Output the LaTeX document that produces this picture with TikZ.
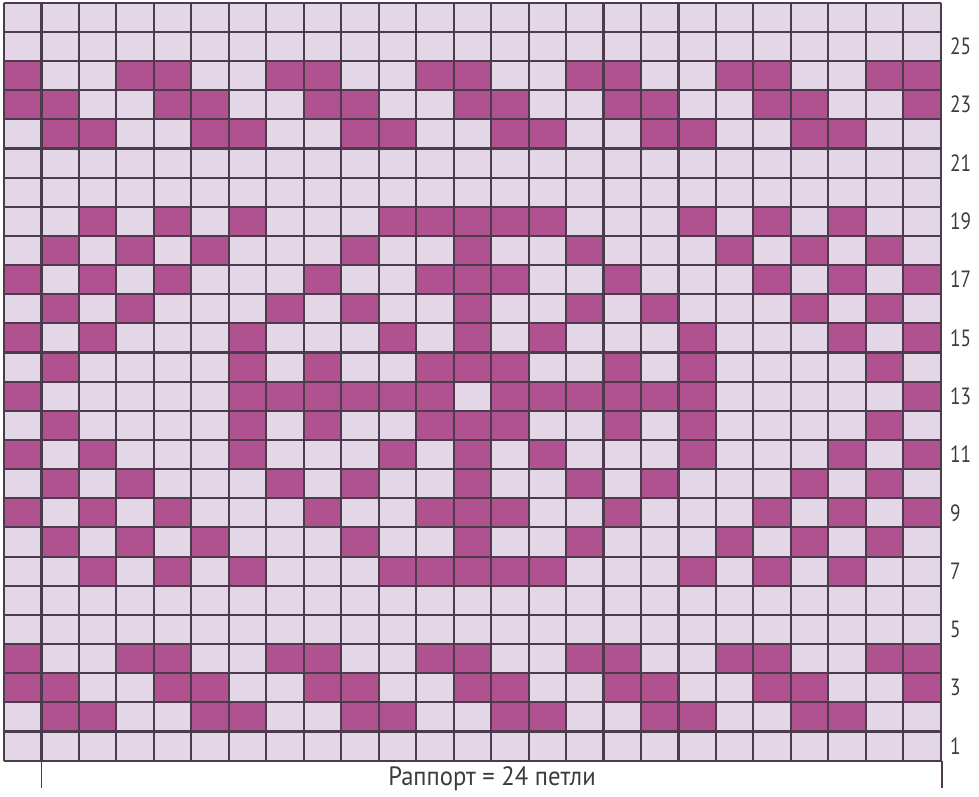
\documentclass[tikz,border=0pt]{standalone}
\usepackage{fontspec}
\setmainfont{PT Sans}
\definecolor{cellLight}{HTML}{E3D6E7}
\definecolor{cellDark}{HTML}{B0528F}
\definecolor{gridCol}{HTML}{4B3B4D}
\definecolor{txtCol}{HTML}{3C3C3C}
\tikzset{
  gridline/.style={draw=gridCol, line width=2.1pt},
  rowlbl/.style={anchor=west, inner sep=0pt, text=txtCol, font=\fontsize{23.5}{23.5}\selectfont},
  caplbl/.style={inner sep=0pt, text=txtCol, font=\fontsize{26.5}{26.5}\selectfont},
  tick/.style={draw=gridCol, line width=1.6pt}
}
\begin{document}
\begin{tikzpicture}[x=1pt,y=-1pt]
\useasboundingbox (0,0) rectangle (979,796);
\fill[white] (0,0) rectangle (979,796);
\def\cw{37.47}
\def\ch{29.15}
\def\xo{4}
\def\yo{2.7}
\fill[cellLight] (\xo,\yo) rectangle ({\xo+25*\cw},{\yo+26*\ch});
\foreach \r/\cols in {
  24/{1,4,5,8,9,12,13,16,17,20,21,24,25},
  23/{1,2,5,6,9,10,13,14,17,18,21,22,25},
  22/{2,3,6,7,10,11,14,15,18,19,22,23},
  19/{3,5,7,11,12,13,14,15,19,21,23},
  18/{2,4,6,10,13,16,20,22,24},
  17/{1,3,5,9,12,13,14,17,21,23,25},
  16/{2,4,8,10,13,16,18,22,24},
  15/{1,3,7,11,13,15,19,23,25},
  14/{2,7,9,12,13,14,17,19,24},
  13/{1,7,8,9,10,11,12,14,15,16,17,18,19,25},
  12/{2,7,9,12,13,14,17,19,24},
  11/{1,3,7,11,13,15,19,23,25},
  10/{2,4,8,10,13,16,18,22,24},
  9/{1,3,5,9,12,13,14,17,21,23,25},
  8/{2,4,6,10,13,16,20,22,24},
  7/{3,5,7,11,12,13,14,15,19,21,23},
  4/{1,4,5,8,9,12,13,16,17,20,21,24,25},
  3/{1,2,5,6,9,10,13,14,17,18,21,22,25},
  2/{2,3,6,7,10,11,14,15,18,19,22,23}} {
  \foreach \c in \cols {
    \fill[cellDark] ({\xo+(\c-1)*\cw},{\yo+(26-\r)*\ch}) rectangle ({\xo+\c*\cw},{\yo+(27-\r)*\ch});
  }
}
\foreach \i in {0,...,25} {
  \draw[gridline] ({\xo+\i*\cw},\yo) -- ({\xo+\i*\cw},{\yo+26*\ch});
}
\foreach \j in {0,...,26} {
  \draw[gridline] (\xo,{\yo+\j*\ch}) -- ({\xo+25*\cw},{\yo+\j*\ch});
}
\foreach \n in {1,3,...,25} {
  \node[rowlbl] (r\n) at (950,{\yo+(26-\n+0.5)*\ch}) {\scalebox{0.82}[1]{\n}};
}
\coordinate (tlA) at ({\xo+\cw},{\yo+26*\ch});
\coordinate (tlB) at ({\xo+\cw},788);
\coordinate (trA) at ({\xo+25*\cw+1},{\yo+26*\ch});
\coordinate (trB) at ({\xo+25*\cw+1},788);
\draw[tick] (tlA) -- (tlB);
\draw[tick] (trA) -- (trB);
\node[caplbl] (rapport) at (492,779) {\scalebox{0.93}[1]{Раппорт = 24 петли}};
\end{tikzpicture}
\end{document}
